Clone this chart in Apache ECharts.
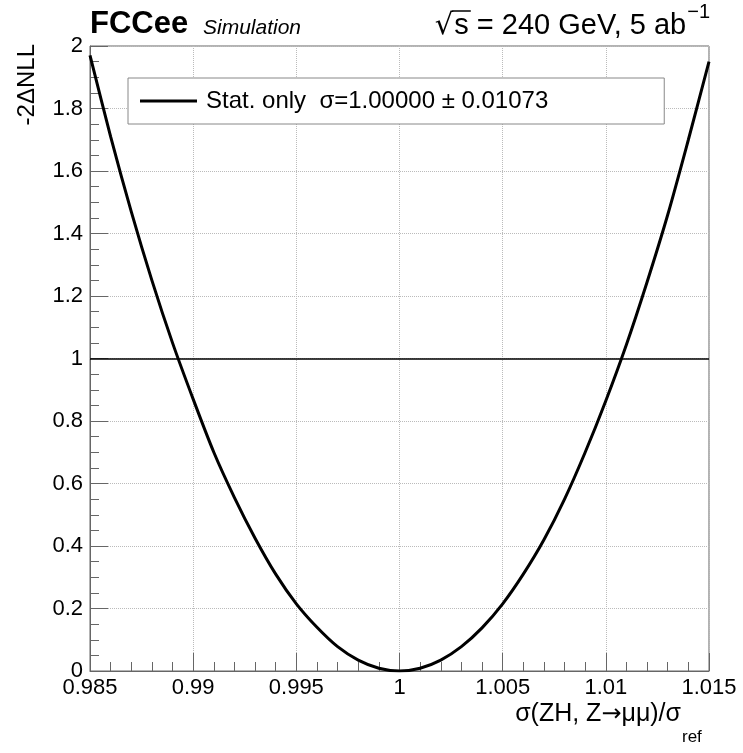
<!DOCTYPE html>
<html>
<head>
<meta charset="utf-8">
<script src="https://cdn.jsdelivr.net/npm/echarts@6/dist/echarts.min.js"></script>
<style>
html,body{margin:0;padding:0;background:#fff;}
#chart{width:743px;height:753px;}
</style>
</head>
<body>
<div id="chart"></div>
<script>
// ---- data ----
var xValues = [0.985, 0.986, 0.987, 0.988, 0.989, 0.990, 0.991, 0.992, 0.993, 0.994, 0.995, 0.996, 0.997, 0.998, 0.999, 1.000,
               1.001, 1.002, 1.003, 1.004, 1.005, 1.006, 1.007, 1.008, 1.009, 1.010, 1.011, 1.012, 1.013, 1.014, 1.015];
var nllValues = [1.97, 1.71, 1.47, 1.25, 1.05, 0.87, 0.70, 0.555, 0.425, 0.31, 0.215, 0.14, 0.078, 0.035, 0.009, 0.0,
                 0.009, 0.035, 0.078, 0.138, 0.215, 0.31, 0.42, 0.55, 0.70, 0.865, 1.045, 1.245, 1.46, 1.70, 1.95];
var refLevel = 1;
var seriesName = 'Stat. only  \u03C3=1.00000 \u00B1 0.01073';
var xTickLabels = ['0.985', '0.99', '0.995', '1', '1.005', '1.01', '1.015'];
var yTickLabels = ['0', '0.2', '0.4', '0.6', '0.8', '1', '1.2', '1.4', '1.6', '1.8', '2'];
var xTitleParts = ['\u03C3(ZH, Z', '\u2192', '\u03BC\u03BC)/\u03C3'];
var xTitleSub = 'ref';
var yTitle = '-2\u0394NLL';
var expLabel = 'FCCee';
var expSub = 'Simulation';
var energyLabel = 's = 240 GeV, 5 ab';
var energySup = '\u22121';

var FONT = '"Liberation Sans", Arial, Helvetica, sans-serif';
var curve = xValues.map(function (x, i) { return [x, nllValues[i]]; });

function textWidth(str, font) {
  var c = document.createElement('canvas').getContext('2d');
  c.font = font;
  return c.measureText(str).width;
}

var chart = echarts.init(document.getElementById('chart'), null, {renderer: 'canvas'});

var supRight = 710;
var supW = textWidth(energySup, '20px ' + FONT);
var mainRight = supRight - supW - 1;
var mainW = textWidth(energyLabel, '29px ' + FONT);
var sStart = mainRight - mainW;
var sW = textWidth('s', '29px ' + FONT);

var option = {
  backgroundColor: '#fff',
  animation: false,
  grid: {left: 90, right: 34, top: 46, bottom: 82, show: true, borderColor: '#666', borderWidth: 1, outerBoundsMode: 'none', containLabel: false},
  xAxis: {
    type: 'value', min: 0.985, max: 1.015, interval: 0.005,
    axisLine: {show: true, lineStyle: {color: '#666', width: 1}},
    axisTick: {show: true, inside: true, length: 18, lineStyle: {color: '#666'}},
    minorTick: {show: true, splitNumber: 5, length: 9, lineStyle: {color: '#666'}},
    splitLine: {show: true, lineStyle: {color: '#bbb', type: 'dotted', width: 1}},
    axisLabel: {
      fontFamily: FONT, fontSize: 22, color: '#000', margin: 6,
      formatter: function (v) { return xTickLabels[Math.round((v - 0.985) / 0.005)]; }
    }
  },
  yAxis: {
    type: 'value', min: 0, max: 2, interval: 0.2,
    axisLine: {show: true, lineStyle: {color: '#666', width: 1}},
    axisTick: {show: true, inside: true, length: 18, lineStyle: {color: '#666'}},
    minorTick: {show: true, splitNumber: 4, length: 9, lineStyle: {color: '#666'}},
    splitLine: {show: true, lineStyle: {color: '#bbb', type: 'dotted', width: 1}},
    axisLabel: {
      fontFamily: FONT, fontSize: 22, color: '#000', margin: 7,
      formatter: function (v) { return yTickLabels[Math.round(v / 0.2)]; }
    }
  },
  legend: {
    show: true, left: 128, top: 78,
    padding: [11, 116, 11, 12],
    borderColor: '#888', borderWidth: 1, backgroundColor: '#fff',
    itemWidth: 57, itemHeight: 3, itemGap: 10,
    textStyle: {fontFamily: FONT, fontSize: 24, color: '#000', padding: [0, 0, 0, 4]},
    data: [{name: seriesName, icon: 'rect', itemStyle: {color: '#000'}}]
  },
  series: [{
    name: seriesName,
    type: 'line',
    data: curve,
    smooth: 0.3,
    symbol: 'none',
    lineStyle: {color: '#000', width: 3},
    itemStyle: {color: '#000'},
    markLine: {
      silent: true, symbol: 'none', animation: false,
      label: {show: false},
      lineStyle: {color: '#000', width: 1.5, type: 'solid'},
      data: [{yAxis: refLevel}]
    }
  }],
  graphic: [
    {type: 'text', x: 90, y: 40, style: {text: expLabel, font: 'bold 31px ' + FONT, fill: '#000', textAlign: 'left', textVerticalAlign: 'bottom'}},
    {type: 'text', x: 203, y: 39, style: {text: expSub, font: 'italic 21px ' + FONT, fill: '#000', textAlign: 'left', textVerticalAlign: 'bottom'}},
    {type: 'text', x: mainRight, y: 40, style: {text: energyLabel, font: '29px ' + FONT, fill: '#000', textAlign: 'right', textVerticalAlign: 'bottom'}},
    {type: 'text', x: supRight, y: 22, style: {text: energySup, font: '20px ' + FONT, fill: '#000', textAlign: 'right', textVerticalAlign: 'bottom'}},
    {type: 'text', x: sStart - 1, y: 41, style: {text: '\u221A', font: '29px "DejaVu Sans", ' + FONT, fill: '#000', textAlign: 'right', textVerticalAlign: 'bottom'}},
    {type: 'line', shape: {x1: sStart - 2, y1: 11, x2: sStart + sW + 2, y2: 11}, style: {stroke: '#000', lineWidth: 1.5}},
    {type: 'text', x: 681, y: 727, style: {
      text: '{a|' + xTitleParts[0] + '}{b|' + xTitleParts[1] + '}{a|' + xTitleParts[2] + '}',
      textAlign: 'right', textVerticalAlign: 'bottom', fill: '#000',
      rich: {
        a: {fontFamily: FONT, fontSize: 25, fill: '#000'},
        b: {fontFamily: '"DejaVu Sans", sans-serif', fontSize: 24, fill: '#000'}
      }
    }},
    {type: 'text', x: 682, y: 746, style: {text: xTitleSub, font: '17px ' + FONT, fill: '#000', textAlign: 'left', textVerticalAlign: 'bottom'}},
    {type: 'text', x: 27, y: 44, rotation: Math.PI / 2, style: {text: yTitle, font: '24px ' + FONT, fill: '#000', textAlign: 'right', textVerticalAlign: 'middle'}}
  ]
};
chart.setOption(option);
</script>
</body>
</html>
